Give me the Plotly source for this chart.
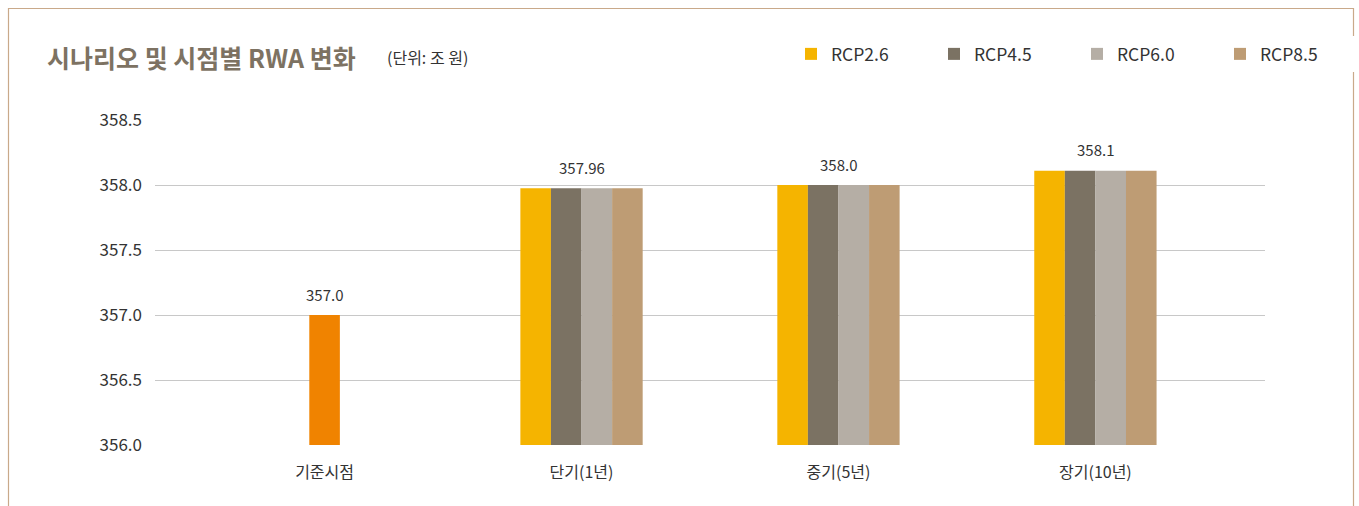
import plotly.graph_objects as go

categories = ["기준시점", "단기(1년)", "중기(5년)", "장기(10년)"]
base_category = ["기준시점"]
base_value = [357.0]
scenario_categories = ["단기(1년)", "중기(5년)", "장기(10년)"]
rcp26 = [357.975, 358.0, 358.11]
rcp45 = [357.975, 358.0, 358.11]
rcp60 = [357.975, 358.0, 358.11]
rcp85 = [357.975, 358.0, 358.11]
label_values = [357.0, 357.975, 358.0, 358.11]
label_texts = ["357.0", "357.96", "358.0", "358.1"]
y_ticks = [356.0, 356.5, 357.0, 357.5, 358.0, 358.5]
y_tick_text = ["356.0", "356.5", "357.0", "357.5", "358.0", "358.5"]

FONT = "Noto Sans CJK KR"
W = 0.119
series = [
    ("RCP2.6", rcp26, "#f5b400", -2 * W),
    ("RCP4.5", rcp45, "#7b7263", -1 * W),
    ("RCP6.0", rcp60, "#b5aea5", 0),
    ("RCP8.5", rcp85, "#be9c74", 1 * W),
]

fig = go.Figure()
fig.add_trace(go.Bar(x=base_category, y=base_value, width=W, offset=-W / 2,
                     marker=dict(color="#f08300", line=dict(width=0)),
                     showlegend=False, hoverinfo="skip"))
for name, vals, color, off in series:
    fig.add_trace(go.Bar(x=scenario_categories, y=vals, name=name, width=W, offset=off,
                         marker=dict(color=color, line=dict(width=0))))

for cat, val, txt in zip(categories, label_values, label_texts):
    fig.add_annotation(x=cat, y=val, text=txt, showarrow=False, yshift=21,
                       xanchor="center", yanchor="middle",
                       font=dict(family=FONT, size=15, color="#333333"))

L, R, T, B = 155, 94, 120, 61
PW = 1359 - L - R
PH = 506 - T - B

def px_x(px):
    return (px - L) / PW

def px_y(py):
    return (506 - B - py) / PH

fig.add_shape(type="path", xref="paper", yref="paper",
              path=f"M {px_x(8.5)} {px_y(520)} L {px_x(8.5)} {px_y(8.5)} L {px_x(1353.5)} {px_y(8.5)} L {px_x(1353.5)} {px_y(520)}",
              line=dict(color="#c9a98a", width=1.2), layer="above")

fig.add_annotation(xref="paper", yref="paper", x=px_x(45), y=px_y(57), xanchor="left", yanchor="middle",
                   text="시나리오 및 시점별 RWA 변화", showarrow=False,
                   font=dict(family=FONT, size=25, color="#7d7262", weight=600))
fig.add_annotation(xref="paper", yref="paper", x=px_x(385), y=px_y(57), xanchor="left", yanchor="middle",
                   text="(단위: 조 원)", showarrow=False,
                   font=dict(family=FONT, size=16, color="#333333"))

fig.update_layout(
    width=1359, height=506,
    margin=dict(l=L, r=R, t=T, b=B, autoexpand=False),
    paper_bgcolor="white", plot_bgcolor="white",
    barmode="overlay",
    font=dict(family=FONT, size=15, color="#333333"),
    legend=dict(orientation="h", x=px_x(791), y=px_y(54), xanchor="left", yanchor="middle",
                entrywidth=98, entrywidthmode="pixels", itemwidth=30,
                font=dict(family=FONT, size=17.5, color="#333333"), traceorder="normal"),
    xaxis=dict(type="category", categoryorder="array", categoryarray=categories,
               range=[-0.66, 3.66], showgrid=False, showline=False, zeroline=False,
               ticks="", ticklabelstandoff=16,
               tickfont=dict(family=FONT, size=16, color="#333333")),
    yaxis=dict(range=[356.0, 358.5], tickvals=y_ticks, ticktext=y_tick_text,
               showgrid=True, gridcolor="#c8c8c8", gridwidth=1, zeroline=False,
               showline=False, ticks="", ticklabelstandoff=12,
               tickfont=dict(family=FONT, size=17, color="#333333")),
)

fig.write_html("out.html")
